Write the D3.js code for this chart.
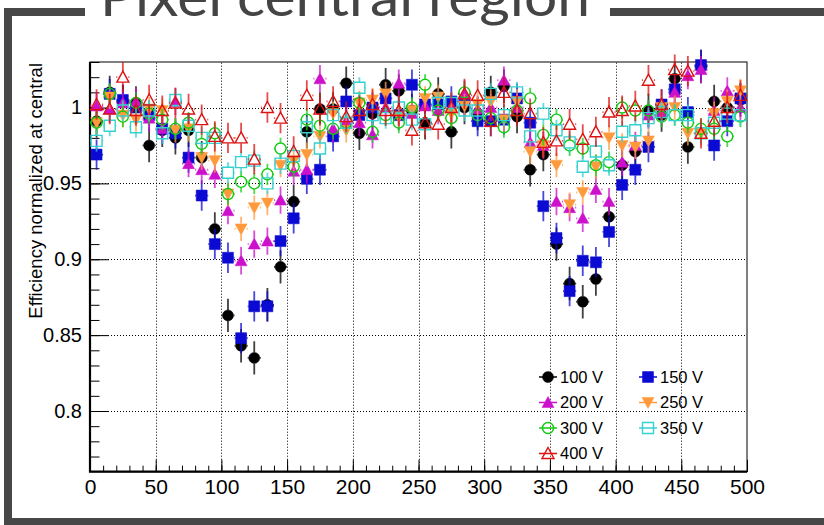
<!DOCTYPE html>
<html>
<head>
    <meta charset="utf-8">
    <title>Pixel central region</title>
    <script src="https://d3js.org/d3.v7.min.js"></script>
    <style>
        body { margin: 0; background: #fff; }
        text { font-family: "Liberation Sans", Arial, sans-serif; }
    </style>
</head>
<body>
    <script>
        // bin centres (position across the pixel)
        const binCenters = [5, 15, 25, 35, 45, 55, 65, 75, 85, 95,
                            105, 115, 125, 135, 145, 155, 165, 175, 185, 195,
                            205, 215, 225, 235, 245, 255, 265, 275, 285, 295,
                            305, 315, 325, 335, 345, 355, 365, 375, 385, 395,
                            405, 415, 425, 435, 445, 455, 465, 475, 485, 495];

        const seriesNames = ["100 V", "150 V", "200 V", "250 V", "300 V", "350 V", "400 V"];

        const eff100 = [0.991, 1.010, 1.004, 1.003, 0.975, 0.985, 0.980, 0.985, 0.967, 0.920,
                        0.863, 0.843, 0.835, 0.870, 0.895, 0.938, 0.984, 0.999, 0.999, 1.016,
                        0.983, 0.996, 1.015, 1.011, 0.998, 0.990, 1.009, 0.984, 1.000, 0.996,
                        1.010, 1.014, 0.994, 0.959, 0.969, 0.910, 0.884, 0.872, 0.887, 0.928,
                        0.962, 0.971, 0.998, 0.995, 1.019, 0.974, 1.027, 1.004, 1.000, 1.005];
        const eff150 = [0.969, 1.009, 1.005, 1.000, 0.995, 0.986, 0.983, 0.967, 0.942, 0.910,
                        0.901, 0.848, 0.869, 0.869, 0.912, 0.927, 0.953, 0.959, 0.981, 1.004,
                        0.995, 1.000, 1.006, 0.995, 1.015, 1.002, 1.002, 1.004, 1.004, 0.991,
                        0.991, 0.992, 1.006, 0.990, 0.935, 0.914, 0.879, 0.899, 0.898, 0.918,
                        0.949, 0.959, 0.974, 1.002, 1.012, 0.997, 1.028, 0.975, 0.991, 1.006];
        const eff200 = [1.001, 0.999, 1.003, 1.004, 0.993, 0.986, 1.004, 0.963, 0.959, 0.956,
                        0.932, 0.899, 0.910, 0.912, 0.939, 0.958, 0.959, 1.019, 0.986, 0.991,
                        0.990, 0.982, 1.000, 1.016, 0.996, 1.001, 0.998, 1.000, 1.009, 0.999,
                        1.000, 1.018, 1.000, 0.977, 0.975, 0.938, 0.934, 0.927, 0.946, 0.938,
                        0.964, 0.975, 0.995, 0.997, 1.010, 1.021, 1.025, 0.998, 1.011, 1.000];
        const eff250 = [0.990, 1.007, 0.995, 0.992, 0.999, 0.998, 0.985, 0.986, 0.967, 0.965,
                        0.943, 0.920, 0.934, 0.937, 0.962, 0.965, 0.969, 0.981, 0.996, 0.985,
                        1.003, 1.005, 1.009, 0.994, 0.998, 1.006, 1.007, 0.996, 1.001, 1.002,
                        1.004, 0.992, 1.004, 0.971, 0.975, 0.962, 0.936, 0.944, 0.961, 0.980,
                        0.975, 0.974, 0.978, 1.000, 1.000, 0.983, 0.983, 0.996, 1.004, 1.011];
        const eff300 = [0.990, 1.009, 0.994, 1.003, 0.996, 0.992, 0.986, 0.990, 0.976, 0.983,
                        0.943, 0.951, 0.950, 0.956, 0.973, 0.961, 0.992, 0.988, 0.986, 0.990,
                        1.003, 0.984, 0.995, 0.990, 1.000, 1.015, 0.998, 0.993, 1.010, 0.995,
                        0.993, 0.987, 0.998, 1.006, 0.982, 0.992, 0.975, 0.973, 0.962, 0.964,
                        1.000, 0.998, 0.998, 0.994, 0.995, 0.990, 0.986, 0.986, 0.981, 0.994];
        const eff350 = [0.978, 0.988, 0.998, 0.987, 0.998, 0.983, 1.005, 0.988, 0.980, 0.980,
                        0.957, 0.964, 0.965, 0.950, 0.963, 0.968, 0.987, 0.973, 0.995, 0.990,
                        1.013, 0.995, 0.993, 1.000, 0.992, 0.989, 1.003, 1.003, 0.998, 0.998,
                        1.009, 0.995, 1.010, 0.981, 0.996, 0.985, 0.977, 0.961, 0.971, 0.962,
                        0.984, 0.985, 0.993, 0.997, 0.995, 0.995, 0.983, 0.990, 0.996, 0.995];
        const eff400 = [1.002, 0.999, 1.020, 0.998, 1.005, 0.998, 1.003, 0.999, 0.992, 0.981,
                        0.980, 0.980, 0.966, 1.000, 0.993, 0.971, 1.008, 0.999, 1.004, 0.994,
                        0.998, 1.002, 0.998, 0.998, 0.985, 0.990, 0.989, 1.000, 1.009, 1.008,
                        0.991, 1.010, 0.998, 0.996, 0.977, 0.978, 0.989, 0.979, 0.984, 0.997,
                        0.998, 1.001, 1.018, 1.002, 1.025, 1.024, 0.983, 0.991, 1.000, 1.008];

        // typical statistical error of each voltage point
        const errY = [0.011, 0.010, 0.009, 0.008, 0.007, 0.007, 0.010];
        const errX = 5;

        const xTicks = [0, 50, 100, 150, 200, 250, 300, 350, 400, 450, 500];
        const yTicks = [0.8, 0.85, 0.9, 0.95, 1];

        const allValues = [eff100, eff150, eff200, eff250, eff300, eff350, eff400];
        const colors = ["#000000", "#0a0ad2", "#cc10cc", "#ff9a3c", "#10cc10", "#35d0d0", "#dd1111"];
        const shapes = ["circle", "square", "triUp", "triDown", "circle", "square", "triUp"];
        const filled = [true, true, true, true, false, false, false];

        const W = 824, H = 525;
        const svg = d3.select("body").append("svg")
            .attr("width", W)
            .attr("height", H);

        // outer frame
        const frameColor = "#474747";
        svg.append("rect").attr("x", 4).attr("y", 8).attr("width", 8).attr("height", 520).attr("fill", frameColor);
        svg.append("rect").attr("x", 4).attr("y", 518).attr("width", 830).attr("height", 8).attr("fill", frameColor);
        svg.append("rect").attr("x", 4).attr("y", 8).attr("width", 81).attr("height", 8).attr("fill", frameColor);
        svg.append("rect").attr("x", 610).attr("y", 8).attr("width", 220).attr("height", 8).attr("fill", frameColor);

        // the banner title sits partly above the top edge, as in the original
        svg.append("text")
            .attr("x", 100)
            .attr("y", 16)
            .attr("textLength", 490)
            .attr("lengthAdjust", "spacingAndGlyphs")
            .style("font-family", "Lato, 'Open Sans', sans-serif")
            .style("font-size", "54px")
            .attr("fill", "#444")
            .text("Pixel central region");

        const x = d3.scaleLinear().domain([0, 500]).range([90, 747]);
        const y = d3.scaleLinear().domain([0.76, 1.03]).range([471.7, 62]);

        // grid
        const grid = svg.append("g")
            .attr("stroke", "#000")
            .attr("stroke-width", 1)
            .attr("stroke-dasharray", "1,2");
        grid.selectAll("line.gx")
            .data(xTicks.filter(d => d > 0 && d < 500))
            .join("line")
            .attr("x1", d => Math.round(x(d)) + 0.5).attr("x2", d => Math.round(x(d)) + 0.5)
            .attr("y1", y.range()[0]).attr("y2", y.range()[1]);
        grid.selectAll("line.gy")
            .data(yTicks)
            .join("line")
            .attr("class", "gy")
            .attr("y1", d => Math.round(y(d)) + 0.5).attr("y2", d => Math.round(y(d)) + 0.5)
            .attr("x1", x.range()[0]).attr("x2", x.range()[1]);

        // axes with inward ticks
        const yMinor = d3.range(77, 104).map(d => d / 100);
        const xMinor = d3.range(0, 510, 10);

        svg.append("g")
            .attr("transform", `translate(${x.range()[0]},0)`)
            .call(d3.axisLeft(y).tickValues(yMinor).tickSize(-9.5).tickFormat(""))
            .call(g => g.select(".domain").remove());
        svg.append("g")
            .attr("transform", `translate(${x.range()[0]},0)`)
            .call(d3.axisLeft(y).tickValues(yTicks).tickSize(-19).tickPadding(8)
                .tickFormat(d => d3.format("")(d)))
            .call(g => g.select(".domain").remove())
            .call(g => g.selectAll("text").style("font-size", "20px").attr("fill", "#000"));

        svg.append("g")
            .attr("transform", `translate(0,${y.range()[0]})`)
            .call(d3.axisBottom(x).tickValues(xMinor).tickSize(-6).tickFormat(""))
            .call(g => g.select(".domain").remove());
        svg.append("g")
            .attr("transform", `translate(0,${y.range()[0]})`)
            .call(d3.axisBottom(x).tickValues(xTicks).tickSize(-12).tickPadding(7))
            .call(g => g.select(".domain").remove())
            .call(g => g.selectAll("text").style("font-size", "21px").attr("fill", "#000"));

        // plot frame
        svg.append("rect")
            .attr("x", 90).attr("y", 62)
            .attr("width", 657).attr("height", 409.7)
            .attr("fill", "none").attr("stroke", "#000").attr("stroke-width", 1);
        svg.append("path")
            .attr("d", `M90,62V471.7H747`)
            .attr("fill", "none").attr("stroke", "#000").attr("stroke-width", 2.2);

        svg.append("text")
            .attr("transform", "translate(42,63) rotate(-90)")
            .attr("text-anchor", "end")
            .style("font-size", "18.5px")
            .text("Efficiency normalized at central");

        const half = 5.5;
        function markerPath(shape) {
            const s = half;
            if (shape === "square") return `M${-s},${-s}H${s}V${s}H${-s}Z`;
            if (shape === "triUp") return `M0,${-s - 0.5}L${s + 0.5},${s - 0.5}L${-s - 0.5},${s - 0.5}Z`;
            if (shape === "triDown") return `M0,${s + 0.5}L${s + 0.5},${-s + 0.5}L${-s - 0.5},${-s + 0.5}Z`;
            return d3.symbol(d3.symbolCircle, Math.PI * s * s)();
        }

        function drawMarker(g, k, cx, cy) {
            g.append("path")
                .attr("transform", `translate(${cx},${cy})`)
                .attr("d", markerPath(shapes[k]))
                .attr("fill", filled[k] ? colors[k] : "none")
                .attr("stroke", colors[k])
                .attr("stroke-width", filled[k] ? 0.5 : 1.4);
        }

        const plot = svg.append("g");
        allValues.forEach((vals, k) => {
            const g = plot.append("g");
            vals.forEach((v, i) => {
                const cx = x(binCenters[i]), cy = y(v);
                const top = y(v + errY[k]), bot = y(v - errY[k]);
                g.append("path")
                    .attr("d", `M${cx},${top}V${cy - half}M${cx},${cy + half}V${bot}` +
                        `M${x(binCenters[i] - errX)},${cy}H${cx - half}M${cx + half},${cy}H${x(binCenters[i] + errX)}`)
                    .attr("stroke", colors[k])
                    .attr("stroke-opacity", 0.75)
                    .attr("stroke-width", 1.8)
                    .attr("fill", "none");
                drawMarker(g, k, cx, cy);
            });
        });

        // legend
        const legX = [548, 648], legY = [377, 402.5, 428, 453.5];
        seriesNames.forEach((name, k) => {
            const lx = legX[k % 2], ly = legY[Math.floor(k / 2)];
            const g = svg.append("g");
            g.append("line")
                .attr("x1", lx - 9).attr("x2", lx + 9)
                .attr("y1", ly).attr("y2", ly)
                .attr("stroke", colors[k]).attr("stroke-width", 1.5);
            drawMarker(g, k, lx, ly);
            g.append("text")
                .attr("x", lx + 12)
                .attr("y", ly)
                .attr("dy", "0.36em")
                .style("font-size", "16.5px")
                .text(name);
        });
    </script>
</body>
</html>
